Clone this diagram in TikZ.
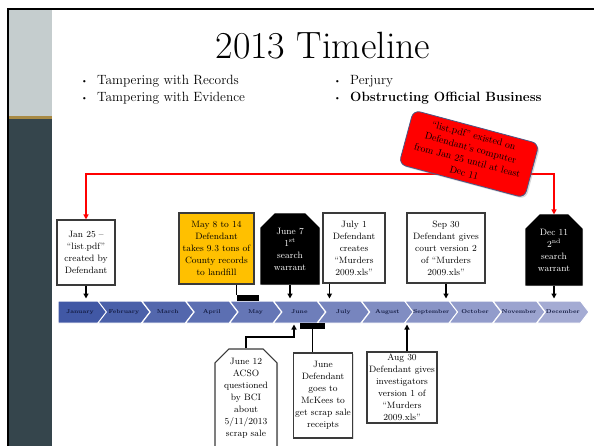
\documentclass[tikz,border=0pt]{standalone}
\usepackage{tikz}
\usepackage{xcolor}
\usetikzlibrary{arrows.meta,positioning,shapes.symbols,shapes.misc,shadows}
\definecolor{sidelight}{HTML}{C5CDCE}
\definecolor{sidedark}{HTML}{35454C}
\definecolor{sidegold}{HTML}{A88A45}
\definecolor{boxline}{HTML}{3A3A3A}
\definecolor{landfill}{HTML}{FFC000}
\definecolor{alert}{HTML}{FF0000}
\definecolor{alertline}{HTML}{4A5785}
\definecolor{monthdark}{HTML}{4158A5}
\definecolor{monthlight}{HTML}{A4ABD3}
\definecolor{monthtxt}{HTML}{121A40}
\newcommand{\bul}{\makebox[16pt][l]{\raisebox{1.5pt}{\fontsize{8}{8}\selectfont\textbullet}}}
\tikzset{
  event/.style={draw=boxline, fill=white, line width=1.1pt, align=center, inner sep=2pt,
                font=\fontsize{9.2}{12}\selectfont,
                drop shadow={opacity=0.25, shadow xshift=1pt, shadow yshift=-1pt}},
  cutbox/.style={event, shape=chamfered rectangle,
                 chamfered rectangle corners={north west,north east},
                 chamfered rectangle xsep=7pt, chamfered rectangle ysep=7pt},
  warrant/.style={cutbox, fill=black, draw=black, text=white},
  month/.style={signal, signal to=east, signal from=west, signal pointer angle=105,
                minimum width=52pt, minimum height=22pt, inner sep=0pt,
                draw=white, line width=1pt, text=monthtxt,
                font=\bfseries\fontsize{5.6}{6}\selectfont},
  callout/.style={draw=alertline, fill=alert, line width=0.8pt, rounded corners=7pt,
                  align=center, inner sep=2pt, minimum width=130pt, minimum height=56pt,
                  font=\fontsize{9.8}{12.8}\selectfont,
                  drop shadow={opacity=0.3, shadow xshift=1.5pt, shadow yshift=-1.5pt}},
  rangebar/.style={fill=black, inner sep=0pt, minimum height=6pt},
  conn/.style={line width=1.3pt, draw=black},
  tip/.style={conn, -{Triangle[length=5pt,width=5pt]}},
  redtip/.style={line width=1.3pt, draw=alert,
                 {Triangle[length=5pt,width=5pt]}-{Triangle[length=5pt,width=5pt]}},
  bullets/.style={anchor=base west, inner sep=0pt, font=\fontsize{13.4}{17}\selectfont}
}
\begin{document}
\begin{tikzpicture}[x=1pt,y=-1pt]
  \useasboundingbox (0,0) rectangle (594,446);
  % slide frame and side bar
  \fill[sidelight] (9,10) rectangle (52,116);
  \fill[sidegold] (9,116) rectangle (52,119);
  \fill[sidedark] (9,119) rectangle (52,446);
  \draw[line width=2pt] (8,446) -- (8,9) -- (594,9);

  % heading
  \node[anchor=base, font=\fontsize{38}{40}\selectfont] (title) at (323,59) {2013 Timeline};
  \node[bullets] (rec) at (81,85) {\bul Tampering with Records};
  \node[bullets] (evi) at (81,102) {\bul Tampering with Evidence};
  \node[bullets] (perj) at (334,85) {\bul Perjury};
  \node[bullets] (obst) at (334,102) {\bul\textbf{Obstructing Official Business}};

  % months
  \node[month, signal from=nowhere, fill=monthdark] (mon1) at (80,312) {January};
  \foreach \m [count=\i from 2] in {February,March,April,May,June,July,August,
                                    September,October,November,December} {
    \pgfmathsetmacro\mix{100-(\i-1)*100/11}
    \node[month, fill=monthdark!\mix!monthlight] (mon\i) at ({54+(\i-1)*43.9+26},312) {\m};
  }

  % events above
  \node[event, minimum width=58pt, minimum height=65pt] (jan25) at (86,252.5)
    {Jan 25 --\\ ``list.pdf''\\ created by\\ Defendant};
  \node[event, fill=landfill, minimum width=75pt, minimum height=71pt] (may) at (216.5,248.5)
    {May 8 to 14\\ Defendant\\ takes 9.3 tons of\\ County records\\ to landfill};
  \node[warrant, minimum width=58pt, minimum height=70pt] (jun7) at (290,249)
    {June 7\\ 1\textsuperscript{st}\\ search\\ warrant};
  \node[event, minimum width=62pt, minimum height=70pt] (jul1) at (354,248)
    {July 1\\ Defendant\\ creates\\ ``Murders\\ 2009.xls''};
  \node[event, minimum width=78pt, minimum height=70pt] (sep30) at (446,248)
    {Sep 30\\ Defendant gives\\ court version 2\\ of ``Murders\\ 2009.xls''};
  \node[warrant, minimum width=56pt, minimum height=70pt] (dec11) at (554,250)
    {Dec 11\\ 2\textsuperscript{nd}\\ search\\ warrant};

  % events below
  \node[cutbox, minimum width=62pt, minimum height=90pt] (jun12) at (246,398)
    {June 12\\ ACSO\\ questioned\\ by BCI\\ about\\ 5/11/2013\\ scrap sale};
  \node[event, minimum width=58pt, minimum height=85pt] (june) at (323,395.5)
    {June\\ Defendant\\ goes to\\ McKees to\\ get scrap sale\\ receipts};
  \node[event, minimum width=70pt, minimum height=71pt] (aug30) at (402,387.5)
    {Aug 30\\ Defendant gives\\ investigators\\ version 1 of\\ ``Murders\\ 2009.xls''};

  % connectors to the months
  \draw[tip, shorten >=2pt] (jan25.south) -- (jan25.south |- mon1.north);
  \node[rangebar, minimum width=22pt] (maybar) at (248,298) {};
  \draw[conn] (maybar.west |- may.south) -- (maybar.north west);
  \draw[tip, shorten >=2pt] (jun7.south) -- (jun7.south |- mon6.north);
  \coordinate (jularr) at ([xshift=7pt]jul1.south west);
  \draw[tip, shorten >=2pt] (jularr) -- (jularr |- mon7.north);
  \draw[tip, shorten >=2pt] (sep30.south) -- (sep30.south |- mon9.north);
  \draw[tip, shorten >=2pt] (dec11.south) -- (dec11.south |- mon12.north);
  \coordinate (jun12turn) at (294,337);
  \draw[tip, shorten >=1pt] (jun12.north) |- (jun12turn) -- (jun12turn |- mon6.south);
  \node[rangebar, minimum width=25pt] (junbar) at (312.5,326) {};
  \draw[conn] (junbar.south) -- (junbar.south |- june.north);
  \coordinate (augarr) at ([xshift=5pt]aug30.north);
  \draw[tip, shorten >=1pt] (augarr) -- (augarr |- mon8.south);

  % list.pdf span
  \coordinate (span) at (0,174);
  \draw[redtip] (jan25.north) -- (jan25.north |- span) -| (dec11.north);
  \node[callout, rotate=-15] (note) at (469,154)
    {``list.pdf'' existed on\\ Defendant's computer\\ from Jan 25 until at least\\ Dec 11};
\end{tikzpicture}
\end{document}
